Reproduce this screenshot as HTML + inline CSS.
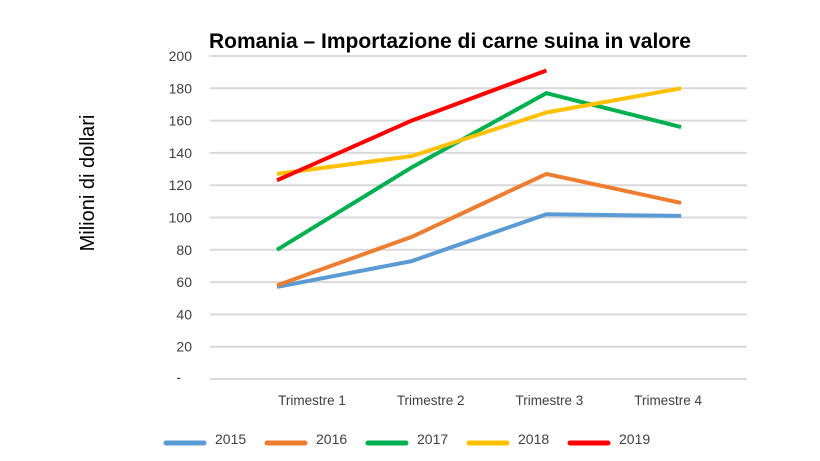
<!DOCTYPE html>
<html><head><meta charset="utf-8"><style>
body{margin:0;background:#fff;}
svg{display:block;font-family:"Liberation Sans",Arial,sans-serif;}
</style></head><body>
<svg id="chart" width="820" height="461" viewBox="0 0 820 461">
<text x="450" y="48" text-anchor="middle" font-size="21" font-weight="bold" fill="#000">Romania – Importazione di carne suina in valore</text>
<text transform="translate(94,183) rotate(-90)" text-anchor="middle" font-size="20" fill="#000">Milioni di dollari</text>
<g id="grid"></g><g id="ylabels"></g><g id="xlabels"></g><g id="series"></g><g id="legend"></g>
</svg>
<script>
const categories=["Trimestre 1","Trimestre 2","Trimestre 3","Trimestre 4"];
const yTicks=[0,20,40,60,80,100,120,140,160,180,200];
const yTickLabels=["-","20","40","60","80","100","120","140","160","180","200"];
const seriesNames=["2015","2016","2017","2018","2019"];
const seriesColors=["#5b9bd5","#ed7d31","#00b050","#ffc000","#ff0000"];
const v2015=[57,73,102,101];
const v2016=[58,88,127,109];
const v2017=[80,131,177,156];
const v2018=[127,138,165,180];
const v2019=[123,160,191];
const seriesValues=[v2015,v2016,v2017,v2018,v2019];
const NS="http://www.w3.org/2000/svg";
function y(v){return 379-v*(323/200);}
function xPt(i){return 277+i*134.7;}
function xLab(i){return 312+i*118.7;}
function mk(t,a,p){const e=document.createElementNS(NS,t);for(const k in a)e.setAttribute(k,a[k]);p.appendChild(e);return e;}
const g=document.getElementById('grid'),yl=document.getElementById('ylabels'),xl=document.getElementById('xlabels'),s=document.getElementById('series'),lg=document.getElementById('legend');
yTicks.forEach((t,i)=>{
 const l=mk('line',{x1:210,x2:747,y1:y(t),y2:y(t),stroke:'#d9d9d9','stroke-width':2},g);
 
 
 const tx=mk('text',{x:i===0?181:192,y:y(t)+(i===0?3:5),'text-anchor':'end','font-size':14,fill:'#404040'},yl);
 tx.textContent=yTickLabels[i];
 
 
});
categories.forEach((c,i)=>{
 const tx=mk('text',{x:xLab(i),y:405,'text-anchor':'middle','font-size':13.5,fill:'#404040'},xl);
 tx.textContent=c;
 
 
});
seriesValues.forEach((vals,si)=>{
 const pts=vals.map((v,i)=>xPt(i)+','+y(v)).join(' ');
 const p=mk('polyline',{points:pts,fill:'none',stroke:seriesColors[si],'stroke-width':4,'stroke-linejoin':'round'},s);
 
 
 const lx=164+si*101;
 const sw=mk('line',{x1:lx+2,x2:lx+40,y1:443,y2:443,stroke:seriesColors[si],'stroke-width':5,'stroke-linecap':'round'},lg);
 
 
 const t=mk('text',{x:lx+51,y:444,'font-size':14,fill:'#404040'},lg);
 t.textContent=seriesNames[si];
 
 
});
</script>
</body></html>
